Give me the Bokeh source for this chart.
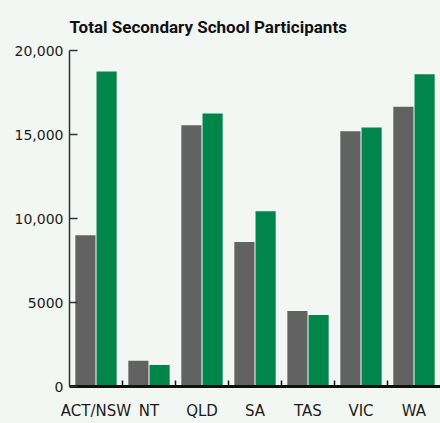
from bokeh.plotting import figure
from bokeh.models import ColumnDataSource, Range1d, FixedTicker
from bokeh.transform import dodge
from bokeh.embed import file_html
from bokeh.resources import INLINE

categories = ["ACT/NSW", "NT", "QLD", "SA", "TAS", "VIC", "WA"]
series_a = [9000, 1530, 15550, 8600, 4490, 15200, 16650]   # grey bars
series_b = [18750, 1280, 16250, 10430, 4250, 15420, 18580]  # green bars
y_ticks = [0, 5000, 10000, 15000, 20000]
y_tick_labels = ["0", "5000", "10,000", "15,000", "20,000"]
title_text = "Total Secondary School Participants"

BG = "#f3f7f4"
GREY = "#626262"
GREEN = "#00854a"
TXT = "#1c1c1c"
FONT = "DejaVu Sans"

xs = [i + 0.5 for i in range(len(categories))]
src = ColumnDataSource(dict(x=xs, a=series_a, b=series_b, cat=categories))

p = figure(width=440, height=423, output_backend="svg", toolbar_location=None,
           x_range=Range1d(0, len(categories)), y_range=Range1d(0, 20000),
           title=title_text, min_border_left=69, min_border_right=0,
           min_border_top=50, min_border_bottom=37)
p.background_fill_color = BG
p.border_fill_color = BG
p.outline_line_color = None
p.grid.visible = False

p.title.text_font = "Roboto"
p.title.text_font_style = "bold"
p.title.text_font_size = "17px"
p.title.text_color = "#111111"
p.title.align = "left"
p.title.standoff = 27

p.vbar(x=dodge("x", -0.2, range=p.x_range), top="a", width=0.38, bottom=0,
       source=src, fill_color=GREY, line_color=None)
p.vbar(x=dodge("x", 0.2, range=p.x_range), top="b", width=0.38, bottom=0,
       source=src, fill_color=GREEN, line_color=None)

# x axis
xa = p.xaxis[0]
xa.ticker = FixedTicker(ticks=xs, minor_ticks=list(range(1, len(categories))))
xa.major_label_overrides = {x: c for x, c in zip(xs, categories)}
xa.major_tick_in = 0
xa.major_tick_out = 0
xa.minor_tick_in = 6
xa.minor_tick_out = 0
xa.minor_tick_line_color = "#111111"
xa.minor_tick_line_width = 1.5
xa.axis_line_color = "#111111"
xa.axis_line_width = 3
xa.major_label_text_font = FONT
xa.major_label_text_font_size = "15px"
xa.major_label_text_color = TXT
xa.major_label_standoff = 15

# y axis
ya = p.yaxis[0]
ya.ticker = FixedTicker(ticks=y_ticks)
ya.major_label_overrides = {t: l for t, l in zip(y_ticks, y_tick_labels)}
ya.major_tick_in = 8
ya.major_tick_out = 0
ya.minor_tick_line_color = None
ya.major_tick_line_color = "#333333"
ya.major_tick_line_width = 1.5
ya.axis_line_color = "#333333"
ya.axis_line_width = 1.5
ya.major_label_text_font = FONT
ya.major_label_text_font_size = "14px"
ya.major_label_text_color = TXT
ya.major_label_standoff = 6

html = file_html(p, INLINE)
html = html.replace("<head>", "<head><style>html,body{background:%s;margin:0;padding:0;}</style>" % BG, 1)
open("out.html", "w").write(html)
